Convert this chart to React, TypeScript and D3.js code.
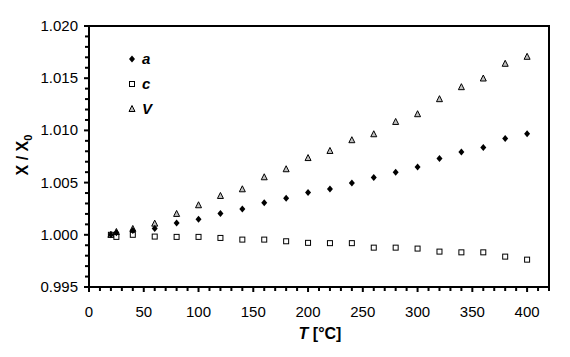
import React from "react";
import * as d3 from "d3";

const temps = [20, 25, 40, 60, 80, 100, 120, 140, 160, 180, 200, 220, 240, 260, 280, 300, 320, 340, 360, 380, 400];
const seriesA = [1.0, 1.0002, 1.0004, 1.0006, 1.00113, 1.00149, 1.00203, 1.00248, 1.00306, 1.0035, 1.00405, 1.00439, 1.00497, 1.00548, 1.00599, 1.0065, 1.0073, 1.00794, 1.00836, 1.00922, 1.00967];
const seriesC = [1.0, 0.9998, 1.0, 0.99983, 0.9998, 0.9998, 0.9997, 0.99954, 0.99954, 0.99938, 0.99923, 0.9992, 0.9992, 0.99877, 0.99877, 0.99868, 0.99839, 0.99832, 0.99832, 0.99791, 0.99762];
const seriesV = [1.0, 1.00027, 1.00056, 1.00107, 1.002, 1.00283, 1.00372, 1.00436, 1.00551, 1.00628, 1.00735, 1.00803, 1.00906, 1.00963, 1.01081, 1.01155, 1.01299, 1.01414, 1.01497, 1.01638, 1.01705];
const xTicks = [0, 50, 100, 150, 200, 250, 300, 350, 400];
const yTicks = [0.995, 1.0, 1.005, 1.01, 1.015, 1.02];
const legendLabels = ["a", "c", "V"];

const W = 570, H = 357;
const L = 89, R = 549, T = 26, B = 287;
const font = "'Liberation Sans', Arial, sans-serif";

export default function App() {
  const x = d3.scaleLinear().domain([0, 420]).range([L, R]);
  const y = d3.scaleLinear().domain([0.995, 1.02]).range([B, T]);
  const xMinor = d3.range(0, 421, 10);
  const yMinor = d3.range(0, 26).map((i) => 0.995 + i * 0.001);

  const diamond = (cx: number, cy: number, k: number) => (
    <path d={`M${cx},${cy - 3.5}L${cx + 3},${cy}L${cx},${cy + 3.5}L${cx - 3},${cy}Z`} fill="#000" key={k} />
  );
  const square = (cx: number, cy: number, k: number) => (
    <rect x={cx - 2.5} y={cy - 2.5} width={5} height={5} fill="#fff" stroke="#000" strokeWidth={1} key={k} />
  );
  const triangle = (cx: number, cy: number, k: number) => (
    <path d={`M${cx},${cy - 3.5}L${cx + 3},${cy + 2.5}L${cx - 3},${cy + 2.5}Z`} fill="#c0c0c0" stroke="#000" strokeWidth={1} key={k} />
  );
  const markers = [diamond, square, triangle];

  return (
    <svg width={W} height={H} style={{ position: "absolute", left: 0, top: 0, background: "#fff" }}>
      <rect x={0} y={0} width={W} height={H} fill="#fff" />
      {/* minor ticks */}
      {xMinor.map((v) => (
        <line key={"xm" + v} x1={x(v)} x2={x(v)} y1={B} y2={B + (v % 50 === 0 ? 5 : 4)} stroke="#000" strokeWidth={2} />
      ))}
      {yMinor.map((v, i) => (
        <line key={"ym" + i} x1={L - (i % 5 === 0 ? 5 : 4)} x2={L} y1={y(v)} y2={y(v)} stroke="#000" strokeWidth={2} />
      ))}
      {/* frame */}
      <rect x={L} y={T} width={R - L} height={B - T} fill="none" stroke="#000" strokeWidth={2} />
      {/* tick labels */}
      {xTicks.map((v) => (
        <text key={"xt" + v} x={x(v)} y={317} textAnchor="middle" fontFamily={font} fontSize={15} fill="#000">
          {v}
        </text>
      ))}
      {yTicks.map((v) => (
        <text key={"yt" + v} x={78} y={y(v) + 5} textAnchor="end" fontFamily={font} fontSize={15} fill="#000">
          {v.toFixed(3)}
        </text>
      ))}
      {/* axis titles */}
      <text x={320} y={339} textAnchor="middle" fontFamily={font} fontSize={16} fontWeight="bold" fill="#000">
        <tspan fontStyle="italic">T</tspan> [°C]
      </text>
      <text transform={`translate(28,${155}) rotate(-90)`} textAnchor="middle" fontFamily={font} fontSize={16} fontWeight="bold" fill="#000">
        X / X<tspan fontSize={11} dy={4}>0</tspan>
      </text>
      {/* data */}
      <g>{temps.map((t, i) => triangle(x(t), y(seriesV[i]), i))}</g>
      <g>{temps.map((t, i) => square(x(t), y(seriesC[i]), i))}</g>
      <g>{temps.map((t, i) => diamond(x(t), y(seriesA[i]), i))}</g>
      {/* legend */}
      {legendLabels.map((lab, i) => {
        const cy = 59 + i * 25;
        return (
          <g key={"lg" + lab}>
            {markers[i](132, cy, i)}
            <text x={142} y={cy + 5} fontFamily={font} fontSize={15} fontWeight="bold" fontStyle="italic" fill="#000">
              {lab}
            </text>
          </g>
        );
      })}
    </svg>
  );
}
